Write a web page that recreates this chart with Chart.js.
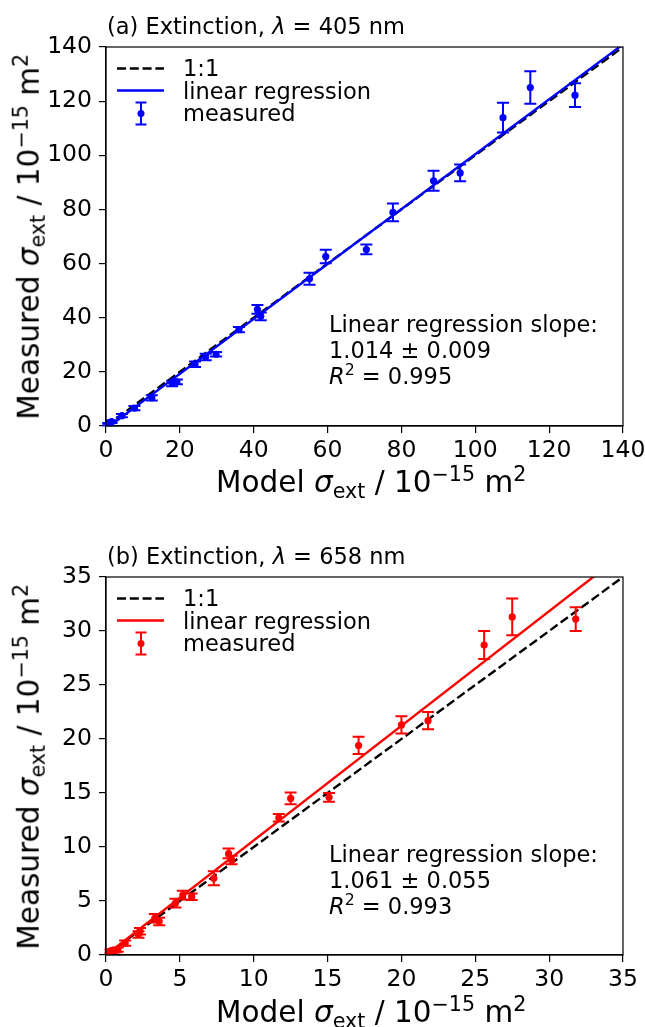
<!DOCTYPE html>
<html>
<head>
<meta charset="utf-8">
<script src="https://cdn.jsdelivr.net/npm/chart.js@4.4.1/dist/chart.umd.min.js"></script>
<style>
  body { margin: 0; background: #fff; }
  #fig { position: relative; width: 645px; height: 1027px; overflow: hidden;
         font-family: 'DejaVu Sans', sans-serif; color: #000; }
  #fig canvas { position: absolute; left: 0; }
  .t { position: absolute; white-space: nowrap; font-size: 22.5px; line-height: 22.5px; }
  .big { font-size: 29.5px; line-height: 29.5px; }
  .t sub, .t sup { font-size: 70%; line-height: 0; }
  .t sub { vertical-align: -0.3em; }
  .t sup { vertical-align: 0.55em; }
  .ylab { width: 379px; text-align: center; transform: rotate(-90deg); }
</style>
</head>
<body>
<div id="fig"></div>
<script>
// panel (a): 405 nm
const A_MODEL = [0.6, 1.5, 4.3, 7.7, 12.4, 17.9, 19.2, 24.1, 27.0, 29.8, 36.0, 41.0, 41.9, 55.1, 59.5, 70.5, 77.7, 88.7, 95.9, 107.5, 114.9, 127.0];
const A_MEAS  = [0.7, 1.6, 3.8, 6.6, 10.4, 15.7, 16.3, 22.8, 25.5, 26.5, 35.6, 43.1, 40.5, 54.4, 62.6, 65.2, 78.9, 90.6, 93.5, 113.9, 125.0, 122.2];
const A_ERR   = [0.4, 0.5, 0.6, 0.8, 1.0, 1.0, 0.9, 1.0, 1.2, 0.8, 1.0, 1.6, 1.4, 2.2, 2.5, 1.8, 3.3, 3.7, 3.1, 5.5, 6.0, 4.4];
const A_LINE_X = [0, 140];
const A_ONE_Y  = [0, 140];
const A_REG_Y  = [-1.0, 140.96];
const A_TICKS  = [0, 20, 40, 60, 80, 100, 120, 140];

// panel (b): 658 nm
const B_MODEL = [0.3, 0.5, 0.65, 0.8, 1.3, 2.2, 2.3, 3.3, 3.6, 4.7, 5.2, 5.8, 7.3, 8.3, 8.5, 11.7, 12.5, 15.1, 17.1, 20.0, 21.8, 25.6, 27.5, 31.8];
const B_MEAS  = [0.35, 0.4, 0.45, 0.5, 1.1, 1.9, 2.2, 3.4, 3.1, 4.8, 5.55, 5.4, 7.1, 9.4, 8.8, 12.7, 14.5, 14.6, 19.4, 21.3, 21.7, 28.7, 31.3, 31.1];
const B_ERR   = [0.15, 0.15, 0.2, 0.2, 0.25, 0.3, 0.3, 0.4, 0.35, 0.4, 0.4, 0.3, 0.65, 0.45, 0.4, 0.35, 0.55, 0.4, 0.8, 0.8, 0.8, 1.3, 1.7, 1.1];
const B_LINE_X = [0, 35];
const B_ONE_Y  = [0, 35];
const B_REG_Y  = [0, 37.14];
const B_TICKS  = [0, 5, 10, 15, 20, 25, 30, 35];

const FONT = "'DejaVu Sans', sans-serif";
const TICK_FONT = { family: FONT, size: 23.5 };
const pts = (xs, ys) => xs.map((x, i) => ({ x, y: ys[i] }));

// error bars, axes frame and legend handles
const errPlugin = {
  id: 'errbars',
  afterDatasetsDraw(chart) {
    const { ctx, scales } = chart;
    chart.data.datasets.forEach((ds) => {
      if (!ds.errors) return;
      ctx.save();
      ctx.strokeStyle = ds.backgroundColor;
      ctx.lineWidth = 2;
      ds.data.forEach((p, i) => {
        const x = scales.x.getPixelForValue(p.x);
        const y1 = scales.y.getPixelForValue(p.y - ds.errors[i]);
        const y2 = scales.y.getPixelForValue(p.y + ds.errors[i]);
        ctx.beginPath();
        ctx.moveTo(x, y1); ctx.lineTo(x, y2);
        ctx.moveTo(x - 6, y1); ctx.lineTo(x + 6, y1);
        ctx.moveTo(x - 6, y2); ctx.lineTo(x + 6, y2);
        ctx.stroke();
      });
      ctx.restore();
    });
  },
  afterDraw(chart) {
    const { ctx, chartArea: a } = chart;
    const col = chart.options.plugins.errbars.color;
    ctx.save();
    ctx.strokeStyle = '#000';
    ctx.lineWidth = 1.2;
    ctx.strokeRect(a.left, a.top, a.right - a.left, a.bottom - a.top);
    // legend handles
    const lx = a.left + 11, rx = a.left + 58, cx = a.left + 35;
    ctx.lineWidth = 2.5;
    ctx.setLineDash([9, 3.8]);
    ctx.beginPath(); ctx.moveTo(lx, a.top + 21.5); ctx.lineTo(rx, a.top + 21.5); ctx.stroke();
    ctx.setLineDash([]);
    ctx.strokeStyle = col;
    ctx.beginPath(); ctx.moveTo(lx, a.top + 43.5); ctx.lineTo(rx, a.top + 43.5); ctx.stroke();
    const my = a.top + 66.5;
    ctx.lineWidth = 2;
    ctx.beginPath();
    ctx.moveTo(cx, my - 11); ctx.lineTo(cx, my + 11);
    ctx.moveTo(cx - 5.5, my - 11); ctx.lineTo(cx + 5.5, my - 11);
    ctx.moveTo(cx - 5.5, my + 11); ctx.lineTo(cx + 5.5, my + 11);
    ctx.stroke();
    ctx.fillStyle = col;
    ctx.beginPath(); ctx.arc(cx, my, 3.5, 0, Math.PI * 2); ctx.fill();
    ctx.restore();
  },
};

function axis(max, ticks, fit, pad) {
  return {
    type: 'linear', min: 0, max,
    afterBuildTicks: (s) => { s.ticks = ticks.map((v) => ({ value: v })); },
    afterFit: (s) => { fit(s); s.paddingLeft = s.paddingRight = s.paddingTop = s.paddingBottom = 0; },
    grid: { drawOnChartArea: false, color: '#000', lineWidth: 1.2, tickLength: 7 },
    border: { color: '#000', width: 1.2 },
    ticks: { color: '#000', font: TICK_FONT, maxRotation: 0, autoSkip: false, padding: pad },
  };
}

function addText(fig, html, left, top, cls) {
  const d = document.createElement('div');
  d.className = 't' + (cls ? ' ' + cls : '');
  d.innerHTML = html;
  d.style.left = left + 'px';
  d.style.top = top + 'px';
  fig.appendChild(d);
  return d;
}

const SIGMA = '<i>σ</i><sub>ext</sub> / 10<sup>−15</sup> m<sup>2</sup>';

function panel(p) {
  const fig = document.getElementById('fig');
  const cv = document.createElement('canvas');
  cv.width = 645; cv.height = p.h;
  cv.style.top = p.top + 'px';
  fig.appendChild(cv);

  new Chart(cv, {
    type: 'scatter',
    data: {
      datasets: [
        { label: 'measured', data: pts(p.model, p.meas), errors: p.err, order: 0,
          backgroundColor: p.color, borderColor: p.color, pointRadius: 3.6, pointBorderWidth: 0, pointHoverRadius: 3.6 },
        { label: 'linear regression', data: pts(p.lineX, p.regY), order: 1, showLine: true,
          borderColor: p.color, borderWidth: 2.4, pointRadius: 0 },
        { label: '1:1', data: pts(p.lineX, p.oneY), order: 2, showLine: true,
          borderColor: '#000', borderWidth: 2.4, borderDash: [9, 3.8], pointRadius: 0 },
      ],
    },
    options: {
      responsive: false, animation: false, devicePixelRatio: 1,
      layout: { padding: { left: 0, top: 47, right: 22, bottom: 0 } },
      plugins: { legend: { display: false }, tooltip: { enabled: false }, errbars: { color: p.color } },
      scales: {
        x: axis(p.max, p.ticks, (s) => { s.height = p.h - p.bottom; }, 4),
        y: axis(p.max, p.ticks, (s) => { s.width = 106; }, 7),
      },
    },
    plugins: [errPlugin],
  });

  const t = p.top;
  addText(fig, p.title, 107, t + 14.5);
  addText(fig, '1:1', 183, t + 57);
  addText(fig, 'linear regression', 183, t + 79.5);
  addText(fig, 'measured', 183, t + 102);
  addText(fig, 'Linear regression slope:', 329, t + 313);
  addText(fig, p.slope, 329, t + 339);
  addText(fig, p.r2, 329, t + 365);
  const xl = addText(fig, 'Model ' + SIGMA, 0, t + 468, 'big');
  xl.style.left = (371 - xl.offsetWidth / 2) + 'px';
  addText(fig, 'Measured ' + SIGMA, 29.8 - 379 / 2, t + 236.5 - 14.75, 'big ylab');
}

panel({ top: 0, h: 515, bottom: 426, max: 140, ticks: A_TICKS, color: '#0000ff',
  model: A_MODEL, meas: A_MEAS, err: A_ERR, lineX: A_LINE_X, oneY: A_ONE_Y, regY: A_REG_Y,
  title: '(a) Extinction, <i>λ</i> = 405 nm',
  slope: '1.014 ± 0.009', r2: '<i>R</i><sup>2</sup> = 0.995' });

panel({ top: 530, h: 497, bottom: 425, max: 35, ticks: B_TICKS, color: '#ff0000',
  model: B_MODEL, meas: B_MEAS, err: B_ERR, lineX: B_LINE_X, oneY: B_ONE_Y, regY: B_REG_Y,
  title: '(b) Extinction, <i>λ</i> = 658 nm',
  slope: '1.061 ± 0.055', r2: '<i>R</i><sup>2</sup> = 0.993' });
</script>
</body>
</html>
